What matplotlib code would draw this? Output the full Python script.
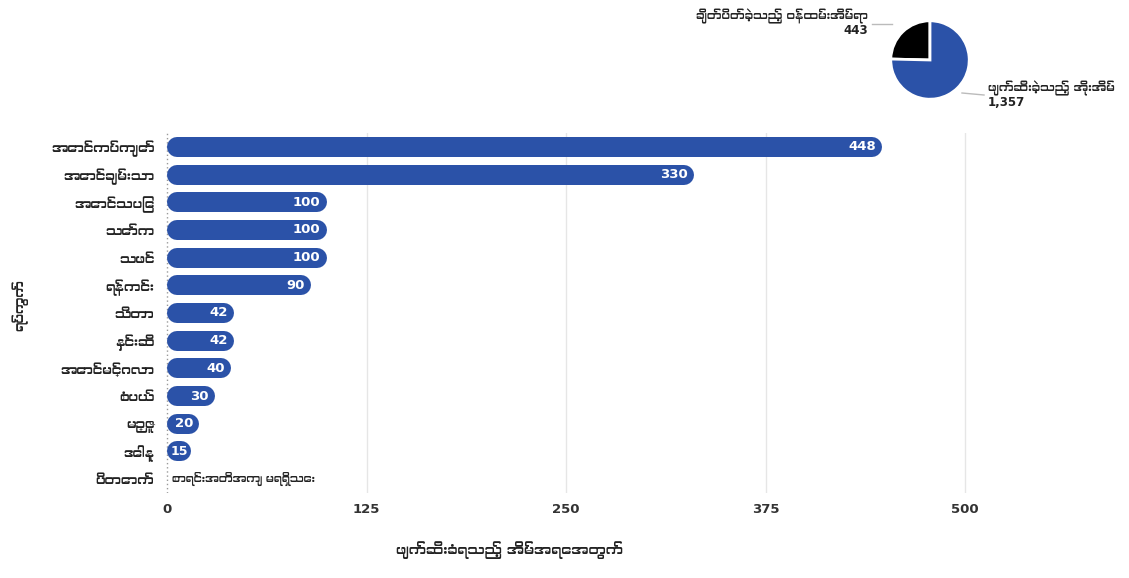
import matplotlib
matplotlib.use("Agg")
import matplotlib.pyplot as plt
from matplotlib import font_manager
from matplotlib.ft2font import FT2Font

# look for an installed font with Myanmar glyphs, prefer a proportional one
mm_fonts = []
for f in font_manager.fontManager.ttflist:
  try:
    if 0x1000 in FT2Font(f.fname).get_charmap():
      mm_fonts.append(f.name)
  except Exception:
    pass
mm_fonts = sorted(set(mm_fonts), key=lambda s: ('Mono' in s, s))
plt.rcParams['font.family'] = ['DejaVu Sans'] + mm_fonts[:1]

wards = ["အောင်ကပ်ကျော်", "အောင်ချမ်းသာ", "အောင်သပြေ", "သော်က", "သဖင်", "ရန်ကင်း",
         "သီတာ", "နှင်းဆီ", "အောင်မင်္ဂလာ", "စံပယ်", "မဉ္ဇူ", "ဒေါနု", "ပိတောက်"]
houses = [448, 330, 100, 100, 100, 90, 42, 42, 40, 30, 20, 15, None]
missing_text = "စာရင်းအတိအကျ မရရှိသေး"
xticks = [0, 125, 250, 375, 500]

pie_labels = ["ချိတ်ပိတ်ခဲ့သည့် ဝန်ထမ်းအိမ်ရာ", "ဖျက်ဆီးခဲ့သည့် အိုးအိမ်"]
pie_values = [443, 1357]
pie_colors = ["#000000", "#2B52A8"]

blue = "#2B52A8"
W, H = 1129, 578
fig = plt.figure(figsize=(W / 100, H / 100), dpi=100)

# bar chart axes, 0 at x=167px, 500 at x=965px
left_px, right_px = 160, 1010
ppu = (965 - 167) / 500
ax = fig.add_axes([left_px / W, (H - 493) / H, (right_px - left_px) / W, (493 - 133) / H])
ax.set_xlim(-(167 - left_px) / ppu, (right_px - 167) / ppu)
n = len(wards)
ax.set_ylim(n - 0.5, -0.5)

bar_px = 20
r = bar_px / 2 / ppu
for i, v in enumerate(houses):
  if v is None:
    ax.text(3, i, missing_text, ha='left', va='center', fontsize=8, color='#222222')
    continue
  ax.plot([r, v - r], [i, i], color=blue, lw=bar_px * 0.72, solid_capstyle='round', zorder=3)
  if v * ppu < 28:
    ax.text(v / 2, i, str(v), ha='center', va='center', color='white',
            fontsize=9, fontweight='bold', zorder=4)
  else:
    ax.text(v - 6 / ppu, i, str(v), ha='right', va='center', color='white',
            fontsize=9.5, fontweight='bold', zorder=4)

for t in xticks:
  if t == 0:
    ax.axvline(t, color='#9a9a9a', lw=1, ls=(0, (1, 2)), zorder=1)
  else:
    ax.axvline(t, color='#e6e6e6', lw=1, zorder=1)

ax.set_xticks(xticks)
ax.set_xticklabels([str(t) for t in xticks], fontsize=9.5, fontweight='bold', color='#333333')
ax.set_yticks(range(n))
ax.set_yticklabels(wards, fontsize=9.5, fontweight='bold', color='#222222')
ax.tick_params(axis='y', length=0, pad=4)
ax.tick_params(axis='x', length=0, pad=7)
for s in ax.spines.values():
  s.set_visible(False)

fig.text(20 / W, 1 - 305 / H, "ရပ်ကွက်", rotation=90, ha='center', va='center',
         fontsize=9.5, fontweight='bold', color='#222222')
fig.text(510 / W, 1 - 550 / H, "ဖျက်ဆီးခံရသည့် အိမ်အရေအတွက်", ha='center', va='center',
         fontsize=10, fontweight='bold', color='#222222')

# pie, centre ~ (930, 60) px, radius ~ 40 px
pax = fig.add_axes([890 / W, 1 - 100 / H, 80 / W, 80 / H])
pax.pie(pie_values, colors=pie_colors, startangle=90, counterclock=True,
        wedgeprops=dict(edgecolor='white', linewidth=2))
pax.set_xlim(-1.02, 1.02)
pax.set_ylim(-1.02, 1.02)
pax.set_aspect('equal')

fig.text(868 / W, 1 - 16 / H, pie_labels[0], ha='right', va='center', fontsize=8.5,
         fontweight='bold', color='#222222')
fig.text(868 / W, 1 - 31 / H, f"{pie_values[0]:,}", ha='right', va='center', fontsize=8.5,
         fontweight='bold', color='#222222')
fig.add_artist(plt.Line2D([872 / W, 892 / W], [1 - 24 / H, 1 - 24 / H], color='#bbbbbb', lw=1))
fig.text(988 / W, 1 - 88 / H, pie_labels[1], ha='left', va='center', fontsize=8.5,
         fontweight='bold', color='#222222')
fig.text(988 / W, 1 - 102 / H, f"{pie_values[1]:,}", ha='left', va='center', fontsize=8.5,
         fontweight='bold', color='#222222')
fig.add_artist(plt.Line2D([962 / W, 984 / W], [1 - 93 / H, 1 - 95 / H], color='#bbbbbb', lw=1))

fig.savefig("out.png", dpi=100)
